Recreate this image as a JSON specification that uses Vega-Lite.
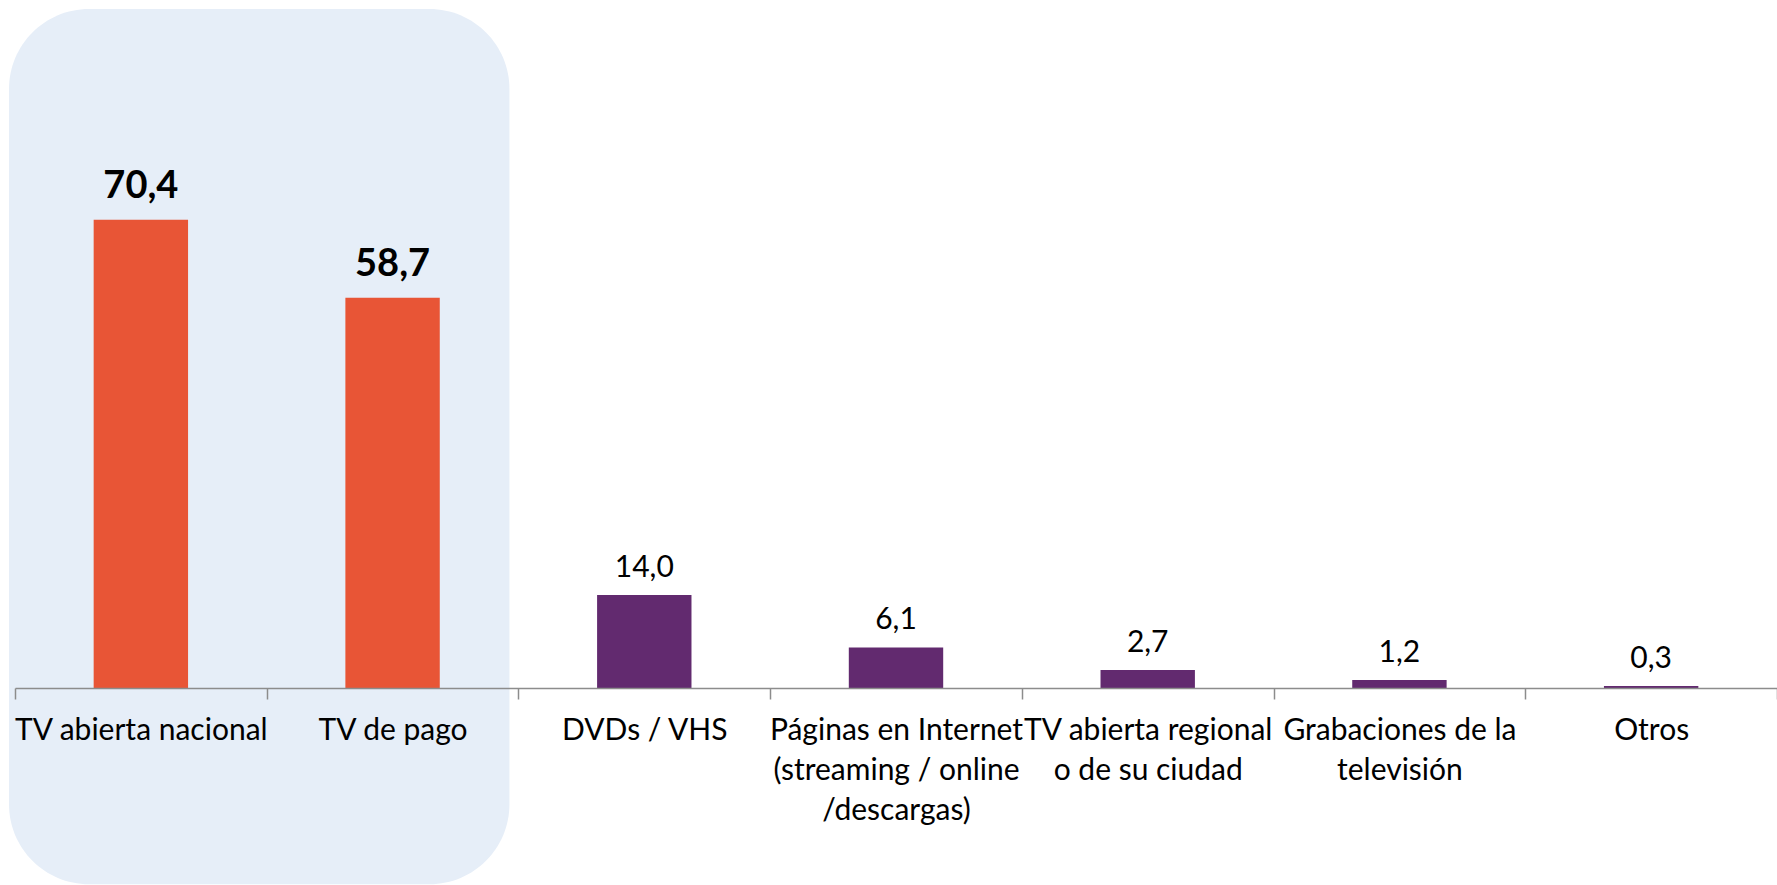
{
  "$schema": "https://vega.github.io/schema/vega-lite/v6.json",
  "width": 1762,
  "height": 665,
  "autosize": {"type": "none"},
  "padding": {"left": 15, "top": 23, "right": 0, "bottom": 197},
  "background": "white",
  "data": {
    "values": [
      {"cat": "TV abierta nacional", "valor": 70.4, "grupo": "TV"},
      {"cat": "TV de pago", "valor": 58.7, "grupo": "TV"},
      {"cat": "DVDs / VHS", "valor": 14.0, "grupo": "Otros medios"},
      {"cat": "Páginas en Internet|(streaming / online|/descargas)", "valor": 6.1, "grupo": "Otros medios"},
      {"cat": "TV abierta regional|o de su ciudad", "valor": 2.7, "grupo": "Otros medios"},
      {"cat": "Grabaciones de la|televisión", "valor": 1.2, "grupo": "Otros medios"},
      {"cat": "Otros", "valor": 0.3, "grupo": "Otros medios"}
    ]
  },
  "transform": [
    {"calculate": "replace(format(datum.valor, '.1f'), '.', ',')", "as": "etiqueta"}
  ],
  "layer": [
    {
      "data": {"values": [{"desde": "TV abierta nacional", "hasta": "TV de pago"}]},
      "mark": {"type": "rect", "fill": "#E6EEF8", "cornerRadius": 80, "xOffset": -6, "x2Offset": -9},
      "encoding": {
        "x": {"field": "desde", "type": "nominal", "sort": null, "bandPosition": 0},
        "x2": {"field": "hasta", "bandPosition": 1},
        "y": {"datum": 102.1, "type": "quantitative", "scale": {"domain": [0, 100], "nice": false, "zero": true}},
        "y2": {"datum": -29.5}
      }
    },
    {
      "mark": {"type": "bar", "width": {"band": 0.375}},
      "encoding": {
        "x": {"field": "cat", "type": "nominal", "sort": null},
        "y": {"field": "valor", "type": "quantitative", "scale": {"domain": [0, 100], "nice": false}},
        "color": {"field": "grupo", "type": "nominal", "scale": {"domain": ["TV", "Otros medios"], "range": ["#E85536", "#622A6F"]}, "legend": null}
      }
    },
    {
      "transform": [{"filter": "datum.grupo === 'TV'"}],
      "mark": {"type": "text", "font": "Lato", "fontSize": 38, "fontWeight": "bold", "color": "#000000", "baseline": "alphabetic", "dy": -22},
      "encoding": {
        "x": {"field": "cat", "type": "nominal", "sort": null},
        "y": {"field": "valor", "type": "quantitative"},
        "text": {"field": "etiqueta"}
      }
    },
    {
      "transform": [{"filter": "datum.grupo !== 'TV'"}],
      "mark": {"type": "text", "font": "Lato", "fontSize": 30, "color": "#000000", "baseline": "alphabetic", "dy": -18},
      "encoding": {
        "x": {"field": "cat", "type": "nominal", "sort": null},
        "y": {"field": "valor", "type": "quantitative"},
        "text": {"field": "etiqueta"}
      }
    }
  ],
  "resolve": {"scale": {"x": "shared", "y": "shared"}},
  "config": {
    "view": {"stroke": null},
    "font": "Lato",
    "scale": {"bandPaddingInner": 0, "bandPaddingOuter": 0},
    "axisY": {"disable": true},
    "axisX": {
      "title": null,
      "labelAngle": 0,
      "labelFont": "Lato",
      "labelFontSize": 30,
      "labelColor": "#000000",
      "labelPadding": 16,
      "labelLineHeight": 40,
      "labelLimit": 0,
      "labelOverlap": false,
      "labelBound": false,
      "labelFlush": false,
      "labelExpr": "split(datum.label, '|')",
      "domainColor": "#8c8c8c",
      "domainWidth": 1.5,
      "tickColor": "#8c8c8c",
      "tickWidth": 1.5,
      "tickSize": 11,
      "tickBand": "extent"
    }
  }
}
